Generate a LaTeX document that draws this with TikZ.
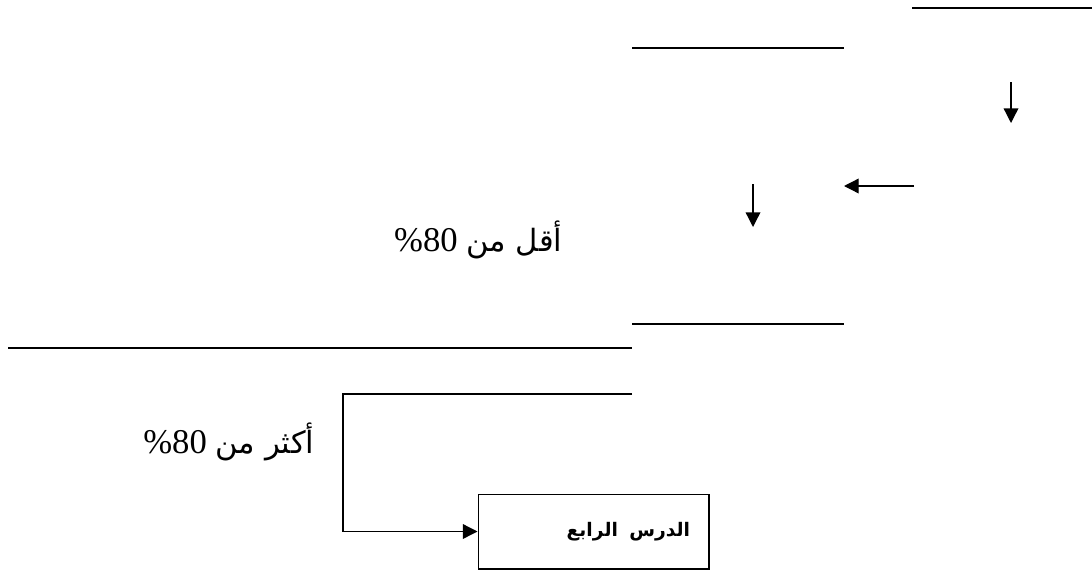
\documentclass[tikz,border=0pt]{standalone}
\usepackage{fontspec}
\setmainfont{Liberation Serif}
\newfontfamily\latinfont{Liberation Serif}
\newfontfamily\arabicfont[Script=Arabic]{DejaVu Sans}
\TeXXeTstate=1
\usetikzlibrary{arrows.meta}
\tikzset{
  font={\latinfont\fontsize{26pt}{30pt}\selectfont},
  arr/.style={-{Triangle[length=11pt,width=11pt]}}}

\begin{document}
\begin{tikzpicture}[x=0.75pt,y=0.75pt,line width=1pt]
\tikzstyle{every node}+=[inner sep=0pt]
\useasboundingbox (0,0) rectangle (1092,-575);
% free line ends
\coordinate (t1) at (912,-8);
\coordinate (t2) at (1092,-8);
\coordinate (u1) at (632,-48);
\coordinate (u2) at (844,-48);
\coordinate (a1) at (1011,-82);
\coordinate (a2) at (1011,-123);
\coordinate (b1) at (914,-186);
\coordinate (b2) at (844,-186);
\coordinate (d1) at (753,-184);
\coordinate (d2) at (753,-227);
\coordinate (m1) at (632,-324);
\coordinate (m2) at (844,-324);
\coordinate (l1) at (8,-348);
\coordinate (l2) at (632,-348);
\coordinate (k1) at (632,-394);
\coordinate (k2) at (343,-394);
% labels
\node [anchor=base east] (less) at (563,-251) {\%80 {\arabicfont\fontsize{23pt}{28pt}\selectfont\beginR أقل من\endR}};
\node [anchor=base east] (more) at (315,-453) {\%80 {\arabicfont\fontsize{23pt}{28pt}\selectfont\beginR أكثر من\endR}};
\node [draw, minimum width=173pt, minimum height=56pt, text width=145pt, align=right, inner xsep=14pt] (box4) at (593.5,-531.5) {\arabicfont\bfseries\fontsize{14pt}{18pt}\selectfont\beginR الدرس الرابع\endR};
% lines and arrows
\draw [black] (t1) -- (t2);
\draw [black] (u1) -- (u2);
\draw [black] (m1) -- (m2);
\draw [black] (l1) -- (l2);
\draw [black, arr] (a1) -- (a2);
\draw [black, arr] (b1) -- (b2);
\draw [black, arr] (d1) -- (d2);
\draw [black, arr] (k1) -- (k2) |- (box4.west);
\end{tikzpicture}
\end{document}
